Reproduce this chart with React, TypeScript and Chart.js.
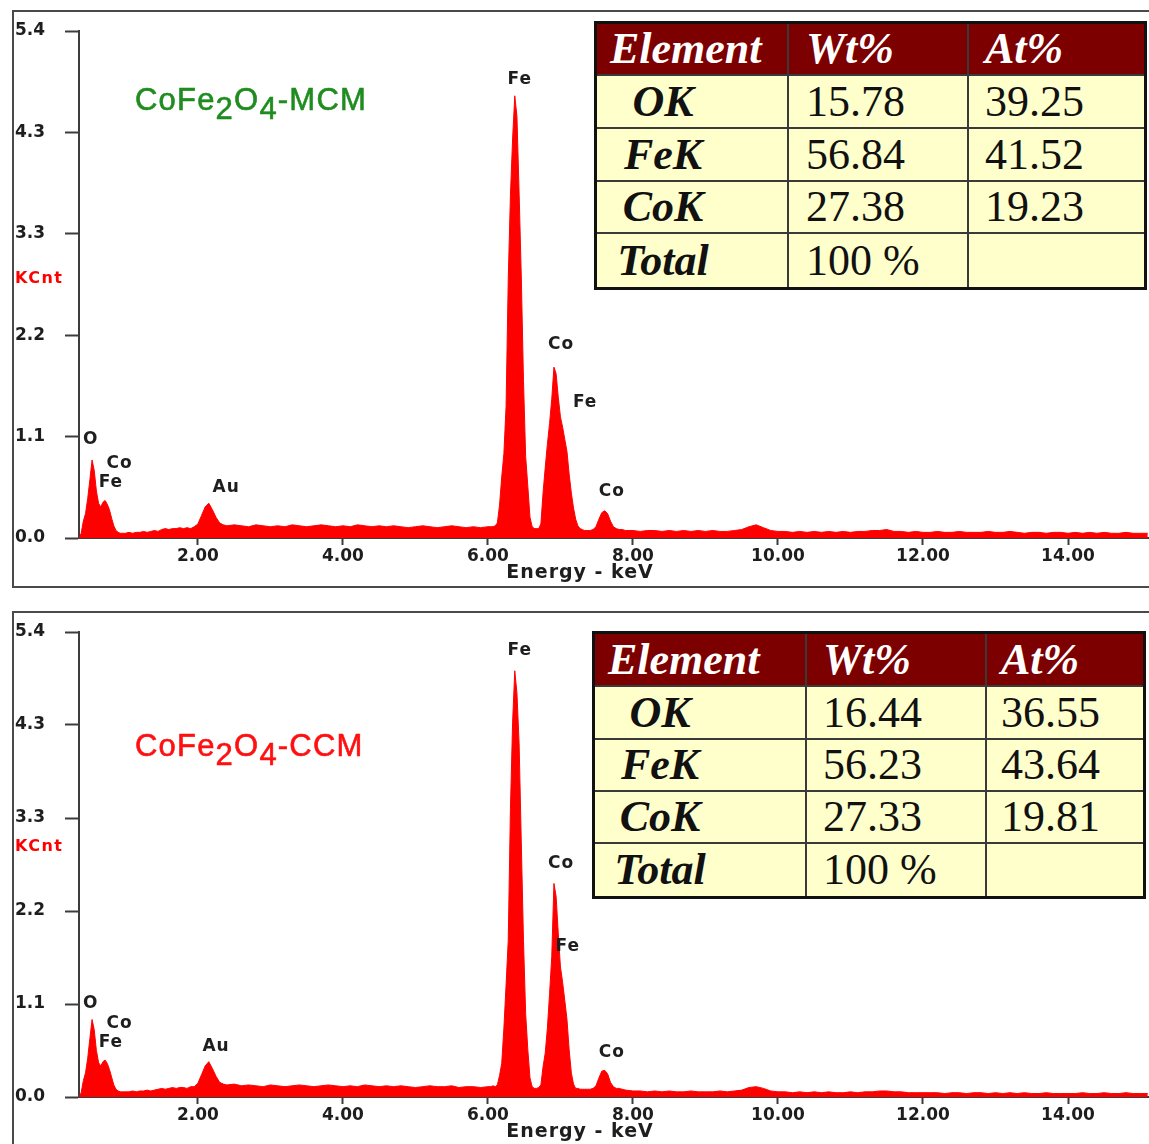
import React, { useEffect, useRef } from "react";
import { Chart, registerables } from "chart.js";

Chart.register(...registerables);

// ---------- data ----------
const energyKeV = [
  0.36, 0.39, 0.42, 0.45, 0.48, 0.51, 0.54, 0.57, 0.6, 0.63, 0.66, 0.69, 0.72, 0.75, 0.78, 0.81, 0.84, 0.87, 0.9, 0.93, 0.96,
  1.0, 1.05, 1.1, 1.15, 1.2, 1.25, 1.3, 1.35, 1.4, 1.45, 1.5, 1.55, 1.6, 1.65, 1.7, 1.75, 1.8, 1.85, 1.9, 1.95,
  2.0, 2.05, 2.1, 2.15, 2.2, 2.25, 2.3, 2.35, 2.4,
  2.5, 2.6, 2.7, 2.8, 2.9, 3.0, 3.1, 3.2, 3.3, 3.4, 3.5, 3.6, 3.7, 3.8, 3.9, 4.0, 4.1, 4.2, 4.3, 4.4,
  4.5, 4.6, 4.7, 4.8, 4.9, 5.0, 5.1, 5.2, 5.3, 5.4, 5.5, 5.6, 5.7, 5.8, 5.9, 6.0,
  6.04, 6.07, 6.1, 6.13, 6.16, 6.19, 6.22, 6.25, 6.28, 6.31, 6.34, 6.37, 6.4, 6.43, 6.46, 6.49, 6.52, 6.55, 6.58, 6.61,
  6.64, 6.67, 6.7, 6.73, 6.76, 6.79, 6.82, 6.85, 6.88, 6.91, 6.94, 6.97, 7.0, 7.03, 7.06, 7.09, 7.12, 7.15, 7.18, 7.21,
  7.24, 7.27, 7.3, 7.33,
  7.37, 7.41, 7.45, 7.49, 7.53, 7.57, 7.61, 7.65, 7.69, 7.73, 7.77, 7.81, 7.85,
  7.9, 8.0, 8.1, 8.2, 8.3, 8.4, 8.5, 8.6, 8.7, 8.8, 8.9, 9.0,
  9.1, 9.2, 9.3, 9.4, 9.5, 9.6, 9.7, 9.8, 9.9, 10.0,
  10.1, 10.2, 10.3, 10.4, 10.5, 10.6, 10.7, 10.8, 10.9, 11.0,
  11.1, 11.2, 11.3, 11.4, 11.5, 11.6, 11.7, 11.8, 11.9, 12.0,
  12.1, 12.2, 12.3, 12.4, 12.5, 12.6, 12.7, 12.8, 12.9, 13.0,
  13.1, 13.2, 13.3, 13.4, 13.5, 13.6, 13.7, 13.8, 13.9, 14.0,
  14.1, 14.2, 14.3, 14.4, 14.5, 14.6, 14.7, 14.8, 14.9, 15.0, 15.1,
];

// KCnt, CoFe2O4-MCM
const countsMCM = [
  0.0, 0.05, 0.18, 0.26, 0.42, 0.62, 0.83, 0.72, 0.5, 0.37, 0.33, 0.38, 0.4, 0.36, 0.3, 0.21, 0.13, 0.08, 0.06, 0.05, 0.05,
  0.05, 0.06, 0.05, 0.06, 0.06, 0.07, 0.06, 0.07, 0.08, 0.07, 0.09, 0.1, 0.09, 0.1, 0.1, 0.11, 0.1, 0.11, 0.1, 0.12,
  0.15, 0.24, 0.33, 0.37, 0.3, 0.22, 0.16, 0.14, 0.13,
  0.14, 0.13, 0.12, 0.14, 0.13, 0.12, 0.13, 0.12, 0.14, 0.13, 0.12, 0.13, 0.14, 0.13, 0.12, 0.13, 0.12, 0.14, 0.13, 0.12,
  0.13, 0.12, 0.13, 0.12, 0.11, 0.12, 0.13, 0.12, 0.11, 0.12, 0.13, 0.12, 0.11, 0.12, 0.11, 0.12,
  0.12, 0.12, 0.13, 0.16, 0.35, 0.65, 0.9, 1.4, 2.75, 3.65, 4.25, 4.71, 4.49, 3.67, 2.78, 1.68, 0.87, 0.55, 0.22, 0.12,
  0.1, 0.1, 0.1, 0.15, 0.48, 0.75, 1.0, 1.22, 1.48, 1.82, 1.75, 1.5, 1.29, 1.18, 1.05, 0.92, 0.68, 0.48, 0.32, 0.2,
  0.13, 0.1, 0.09, 0.08,
  0.08, 0.08, 0.09, 0.12, 0.2, 0.27, 0.29, 0.26, 0.18, 0.12, 0.1, 0.09, 0.09,
  0.08, 0.08, 0.07, 0.08, 0.08, 0.07, 0.08, 0.07, 0.08, 0.07, 0.08, 0.07,
  0.08, 0.07, 0.07, 0.08, 0.09, 0.12, 0.14, 0.11, 0.08, 0.07,
  0.07, 0.06, 0.07, 0.06, 0.07, 0.06, 0.07, 0.06, 0.07, 0.06,
  0.07, 0.07, 0.08, 0.08, 0.09, 0.07, 0.07, 0.06, 0.07, 0.06,
  0.06, 0.07, 0.06, 0.06, 0.07, 0.06, 0.06, 0.06, 0.07, 0.06,
  0.06, 0.07, 0.06, 0.05, 0.06, 0.06, 0.05, 0.06, 0.06, 0.05,
  0.06, 0.05, 0.06, 0.05, 0.06, 0.05, 0.05, 0.06, 0.05, 0.05, 0.05,
];

// KCnt, CoFe2O4-CCM
const countsCCM = [
  0.0, 0.05, 0.19, 0.28, 0.45, 0.68, 0.9, 0.78, 0.54, 0.4, 0.36, 0.41, 0.43, 0.39, 0.32, 0.23, 0.14, 0.09, 0.07, 0.06, 0.06,
  0.06, 0.06, 0.07, 0.06, 0.07, 0.07, 0.08, 0.07, 0.08, 0.09, 0.1, 0.09, 0.1, 0.11, 0.1, 0.11, 0.11, 0.1, 0.12, 0.12,
  0.16, 0.26, 0.36, 0.41, 0.33, 0.24, 0.17, 0.15, 0.14,
  0.15, 0.13, 0.14, 0.13, 0.12, 0.14, 0.13, 0.12, 0.13, 0.14, 0.13, 0.12, 0.13, 0.14, 0.13, 0.12, 0.13, 0.12, 0.14, 0.13,
  0.12, 0.13, 0.12, 0.13, 0.12, 0.11, 0.12, 0.13, 0.12, 0.12, 0.13, 0.11, 0.12, 0.12, 0.11, 0.12,
  0.12, 0.13, 0.12, 0.14, 0.25, 0.39, 0.8, 1.3, 1.82, 3.34, 4.35, 4.95, 4.69, 4.1, 2.95, 1.82, 0.97, 0.55, 0.22, 0.12,
  0.1, 0.1, 0.11, 0.14, 0.35, 0.51, 0.8, 1.2, 1.63, 2.48, 2.33, 1.9, 1.51, 1.33, 1.12, 0.9, 0.55, 0.28, 0.15, 0.1,
  0.1, 0.09, 0.09, 0.09,
  0.09, 0.09, 0.1, 0.13, 0.22, 0.3, 0.31, 0.27, 0.17, 0.12, 0.1, 0.1, 0.09,
  0.08, 0.07, 0.07, 0.06, 0.07, 0.06, 0.07, 0.06, 0.06, 0.07, 0.06, 0.06,
  0.06, 0.07, 0.06, 0.07, 0.08, 0.11, 0.12, 0.1, 0.07, 0.06,
  0.06, 0.05, 0.06, 0.05, 0.06, 0.05, 0.06, 0.05, 0.05, 0.06,
  0.05, 0.06, 0.06, 0.07, 0.07, 0.06, 0.06, 0.05, 0.05, 0.05,
  0.05, 0.05, 0.04, 0.05, 0.05, 0.04, 0.05, 0.05, 0.04, 0.05,
  0.04, 0.05, 0.04, 0.05, 0.04, 0.04, 0.05, 0.04, 0.04, 0.04,
  0.04, 0.05, 0.04, 0.04, 0.05, 0.04, 0.04, 0.05, 0.04, 0.04, 0.04,
];

const xTickValues = [2, 4, 6, 8, 10, 12, 14];
const yTickValues = [0, 1.08, 2.16, 3.24, 4.32, 5.4];
const yTickLabels = ["0.0", "1.1", "2.2", "3.3", "4.3", "5.4"];
const xAxisTitle = "Energy - keV";
const yAxisUnit = "KCnt";

const peakTextsMCM = ["Fe", "Co", "Fe", "Co", "O", "Co", "Fe", "Au"];
const peakKeVMCM = [6.44, 7.01, 7.34, 7.71, 0.52, 0.92, 0.8, 2.39];
const peakKCntMCM = [4.88, 2.06, 1.44, 0.49, 1.05, 0.79, 0.59, 0.54];

const peakTextsCCM = ["Fe", "Co", "Fe", "Co", "O", "Co", "Fe", "Au"];
const peakKeVCCM = [6.44, 7.01, 7.1, 7.71, 0.52, 0.92, 0.8, 2.25];
const peakKCntCCM = [5.18, 2.71, 1.75, 0.52, 1.09, 0.85, 0.63, 0.58];

const tableHeaders = ["Element", "Wt%", "At%"];
const tableElements = ["OK", "FeK", "CoK", "Total"];
const wtMCM = ["15.78", "56.84", "27.38", "100 %"];
const atMCM = ["39.25", "41.52", "19.23", ""];
const wtCCM = ["16.44", "56.23", "27.33", "100 %"];
const atCCM = ["36.55", "43.64", "19.81", ""];

// ---------- chart panel ----------
const AXIS_FONT = '"DejaVu Sans", Verdana, sans-serif';

const edsTextPlugin = {
  id: "edsText",
  afterDraw(chart: any, _args: any, opts: any) {
    const { ctx, chartArea } = chart;
    const x = chart.scales.x;
    const y = chart.scales.y;
    ctx.save();
    ctx.fillStyle = "#1e1e1e";
    ctx.textAlign = "center";
    ctx.textBaseline = "middle";
    ctx.font = `bold 17px ${AXIS_FONT}`;
    (ctx as any).letterSpacing = "1px";
    opts.texts.forEach((t: string, i: number) => {
      ctx.fillText(t, x.getPixelForValue(opts.keV[i]), y.getPixelForValue(opts.kcnt[i]));
    });
    ctx.font = `bold 19px ${AXIS_FONT}`;
    (ctx as any).letterSpacing = "1px";
    ctx.fillText(xAxisTitle, x.getPixelForValue(7.27), chartArea.bottom + 35);
    ctx.fillStyle = "#ff0000";
    ctx.textAlign = "left";
    ctx.font = `bold 16px ${AXIS_FONT}`;
    (ctx as any).letterSpacing = "1.5px";
    ctx.fillText(yAxisUnit, 15, y.getPixelForValue(opts.unitLevel));
    ctx.restore();
  },
};

type PanelProps = {
  top: number;
  height: number;
  areaTop: number;
  xAxisHeight: number;
  counts: number[];
  texts: string[];
  keV: number[];
  kcnt: number[];
  unitLevel: number;
};

function SpectrumPanel(p: PanelProps) {
  const ref = useRef<HTMLCanvasElement | null>(null);
  useEffect(() => {
    if (!ref.current) return;
    const tickFont = { family: AXIS_FONT, weight: "bold" as const, size: 17 };
    const chart = new Chart(ref.current, {
      type: "line",
      data: {
        datasets: [
          {
            data: energyKeV.map((e, i) => ({ x: e, y: p.counts[i] })),
            borderColor: "#ff0000",
            backgroundColor: "#ff0000",
            borderWidth: 1,
            pointRadius: 0,
            fill: "origin",
            tension: 0,
          },
        ],
      },
      options: {
        animation: false,
        responsive: false,
        maintainAspectRatio: false,
        events: [],
        layout: { padding: { left: 15, top: p.areaTop, right: 0, bottom: 0 } },
        plugins: {
          legend: { display: false },
          tooltip: { enabled: false },
          title: { display: false },
          edsText: { texts: p.texts, keV: p.keV, kcnt: p.kcnt, unitLevel: p.unitLevel },
        } as any,
        scales: {
          x: {
            type: "linear",
            min: 0.36,
            max: 15.117,
            z: 1,
            afterBuildTicks: (s: any) => {
              s.ticks = xTickValues.map((v) => ({ value: v }));
            },
            afterFit: (s: any) => {
              s.height = p.xAxisHeight;
            },
            border: { display: true, color: "#3c3c3c", width: 2 },
            grid: {
              display: true,
              drawOnChartArea: false,
              drawTicks: true,
              tickLength: 7,
              tickWidth: 2,
              tickColor: "#3c3c3c",
            },
            ticks: {
              autoSkip: false,
              maxRotation: 0,
              padding: 1,
              color: "#1e1e1e",
              font: tickFont,
              callback: (v: any) => Number(v).toFixed(2),
            },
          },
          y: {
            type: "linear",
            min: 0,
            max: 5.4,
            z: 1,
            afterBuildTicks: (s: any) => {
              s.ticks = yTickValues.map((v) => ({ value: v }));
            },
            afterFit: (s: any) => {
              s.width = 64;
            },
            border: { display: true, color: "#3c3c3c", width: 2 },
            grid: {
              display: true,
              drawOnChartArea: false,
              drawTicks: true,
              tickLength: 14,
              tickWidth: 2,
              tickColor: "#3c3c3c",
            },
            ticks: {
              crossAlign: "far",
              padding: 0,
              color: "#1e1e1e",
              font: tickFont,
              callback: (_v: any, i: number) => yTickLabels[i],
            },
          },
        },
      },
      plugins: [edsTextPlugin as any],
    });
    return () => chart.destroy();
  }, []);
  return (
    <canvas
      ref={ref}
      width={1149}
      height={p.height}
      style={{ position: "absolute", left: 0, top: p.top, width: 1149, height: p.height }}
    />
  );
}

// ---------- HTML overlays ----------
function SampleTitle({ top, color, suffix }: { top: number; color: string; suffix: string }) {
  const sub = { position: "relative" as const, top: 9 };
  return (
    <div
      style={{
        position: "absolute",
        left: 135,
        top,
        fontFamily: '"Liberation Sans", Arial, sans-serif',
        fontSize: 31,
        lineHeight: "30px",
        letterSpacing: "1.2px",
        WebkitTextStroke: `0.6px ${color}`,
        color,
        whiteSpace: "nowrap",
      }}
    >
      CoFe<span style={sub}>2</span>O<span style={sub}>4</span>
      {suffix}
    </div>
  );
}

type TableProps = {
  left: number;
  top: number;
  cols: number[];
  rows: number[];
  wt: string[];
  at: string[];
  firstCenterPad: number;
  pads: number[];
};

function CompositionTable(t: TableProps) {
  const serif = '"Liberation Serif", "Times New Roman", serif';
  const cell = (bg: string, extra: React.CSSProperties = {}): React.CSSProperties => ({
    background: bg,
    display: "flex",
    alignItems: "center",
    fontFamily: serif,
    fontSize: 44,
    lineHeight: 1,
    whiteSpace: "nowrap",
    overflow: "hidden",
    ...extra,
  });
  const head = "#7d0000";
  const body = "#ffffcc";
  return (
    <div
      style={{
        position: "absolute",
        left: t.left,
        top: t.top,
        display: "grid",
        gridTemplateColumns: t.cols.map((c) => `${c}px`).join(" "),
        gridTemplateRows: t.rows.map((r) => `${r}px`).join(" "),
        gap: 2,
        background: "#3a3a3a",
        border: "3px solid #111",
      }}
    >
      {tableHeaders.map((h, i) => (
        <div
          key={"h" + i}
          style={cell(head, {
            color: "#ffffff",
            fontWeight: "bold",
            fontStyle: "italic",
            paddingLeft: t.pads[i],
          })}
        >
          {h}
        </div>
      ))}
      {tableElements.map((el, r) => (
        <React.Fragment key={"r" + r}>
          <div
            style={cell(body, {
              color: "#111",
              fontWeight: "bold",
              fontStyle: "italic",
              justifyContent: "center",
              paddingRight: t.firstCenterPad,
            })}
          >
            {el}
          </div>
          <div style={cell(body, { color: "#111", paddingLeft: t.pads[1] })}>{t.wt[r]}</div>
          <div style={cell(body, { color: "#111", paddingLeft: t.pads[2] })}>{t.at[r]}</div>
        </React.Fragment>
      ))}
    </div>
  );
}

export default function App() {
  return (
    <div
      style={{
        position: "absolute",
        left: 0,
        top: 0,
        width: 1149,
        height: 1144,
        overflow: "hidden",
        background: "#ffffff",
      }}
    >
      <div
        style={{
          position: "absolute",
          left: 12,
          top: 10,
          width: 1200,
          height: 578,
          border: "2px solid #4a4a4a",
          boxSizing: "border-box",
        }}
      />
      <div
        style={{
          position: "absolute",
          left: 12,
          top: 611,
          width: 1200,
          height: 600,
          border: "2px solid #4a4a4a",
          boxSizing: "border-box",
        }}
      />
      <SpectrumPanel
        top={0}
        height={600}
        areaTop={31}
        xAxisHeight={62}
        counts={countsMCM}
        texts={peakTextsMCM}
        keV={peakKeVMCM}
        kcnt={peakKCntMCM}
        unitLevel={2.76}
      />
      <SpectrumPanel
        top={600}
        height={544}
        areaTop={32}
        xAxisHeight={47}
        counts={countsCCM}
        texts={peakTextsCCM}
        keV={peakKeVCCM}
        kcnt={peakKCntCCM}
        unitLevel={2.9}
      />
      <SampleTitle top={85} color="#1f8c1f" suffix="-MCM" />
      <SampleTitle top={731} color="#ff1010" suffix="-CCM" />
      <CompositionTable
        left={594}
        top={21}
        cols={[190, 178, 175]}
        rows={[50, 51, 51, 50, 53]}
        wt={wtMCM}
        at={atMCM}
        firstCenterPad={58}
        pads={[13, 17, 16]}
      />
      <CompositionTable
        left={592}
        top={631}
        cols={[210, 178, 156]}
        rows={[51, 51, 50, 50, 52]}
        wt={wtCCM}
        at={atCCM}
        firstCenterPad={80}
        pads={[13, 16, 14]}
      />
    </div>
  );
}
